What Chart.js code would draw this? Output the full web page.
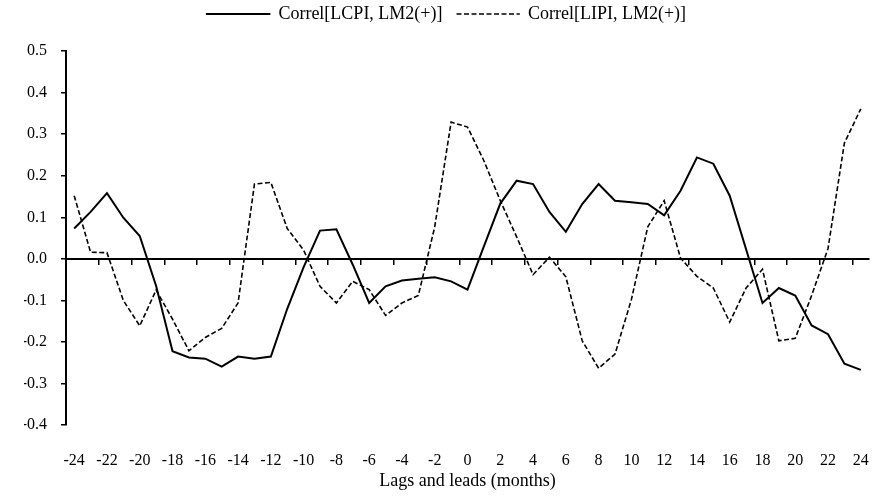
<!DOCTYPE html>
<html>
<head>
<meta charset="utf-8">
<script src="https://cdn.jsdelivr.net/npm/chart.js@4"></script>
<style>
  html, body { margin: 0; padding: 0; background: #fff; }
</style>
</head>
<body>
<canvas id="correl_chart" width="875" height="498"></canvas>
<script>
// lags and leads in months
const lags = [-24, -23, -22, -21, -20, -19, -18, -17, -16, -15, -14, -13, -12, -11, -10, -9, -8,
    -7, -6, -5, -4, -3, -2, -1, 0, 1, 2, 3, 4, 5, 6, 7, 8, 9, 10, 11, 12, 13, 14, 15, 16,
    17, 18, 19, 20, 21, 22, 23, 24];

// Correl[LCPI, LM2(+)]
const lcpi = [0.073, 0.113, 0.158, 0.099, 0.055, -0.065, -0.222, -0.237, -0.240, -0.259,
    -0.235, -0.240, -0.235, -0.120, -0.020, 0.068, 0.071, -0.014, -0.106, -0.066, -0.052,
    -0.048, -0.044, -0.054, -0.074, 0.030, 0.133, 0.188, 0.180, 0.113, 0.065, 0.132, 0.180,
    0.140, 0.136, 0.132, 0.105, 0.164, 0.244, 0.229, 0.152, 0.023, -0.106, -0.070, -0.088,
    -0.160, -0.181, -0.252, -0.267];

// Correl[LIPI, LM2(+)]
const lipi = [0.152, 0.016, 0.015, -0.100, -0.161, -0.075, -0.145, -0.221, -0.189, -0.167,
    -0.106, 0.180, 0.184, 0.073, 0.021, -0.066, -0.106, -0.054, -0.074, -0.136, -0.106,
    -0.088, 0.077, 0.329, 0.317, 0.236, 0.140, 0.053, -0.038, 0.004, -0.043, -0.197, -0.263,
    -0.229, -0.098, 0.077, 0.140, 0.002, -0.042, -0.070, -0.152, -0.070, -0.025, -0.197,
    -0.191, -0.088, 0.025, 0.279, 0.361];

const seriesNames = ["Correl[LCPI, LM2(+)]", "Correl[LIPI, LM2(+)]"];
const yMin = -0.4;
const yMax = 0.5;
const yStep = 0.1;

Chart.defaults.font.family = '"Liberation Serif", "Times New Roman", serif';
Chart.defaults.color = "#000";

// push the plot down a little below the legend
const legendGap = {
    id: "legendGap",
    beforeInit(chart) {
        const fit = chart.legend.fit;
        chart.legend.fit = function () {
            fit.bind(chart.legend)();
            this.height += 18;
        };
    },
};

const ctx = document.querySelector("#correl_chart");
new Chart(ctx, {
    type: "line",
    data: {
        labels: lags,
        datasets: [
            {
                label: seriesNames[0],
                data: lcpi,
                borderColor: "#000",
                backgroundColor: "rgba(0,0,0,0)",
                borderWidth: 2,
                pointRadius: 0,
                tension: 0,
            },
            {
                label: seriesNames[1],
                data: lipi,
                borderColor: "#000",
                backgroundColor: "rgba(0,0,0,0)",
                borderWidth: 1.6,
                borderDash: [5, 2.5],
                pointRadius: 0,
                tension: 0,
            },
        ],
    },
    options: {
        responsive: false,
        animation: false,
        layout: { padding: { left: 24, right: 6, top: 0, bottom: 6 } },
        plugins: {
            tooltip: { enabled: false },
            legend: {
                position: "top",
                labels: {
                    font: { size: 18 },
                    color: "#000",
                    padding: 5,
                    // width picked so the flat box outline's dashes line up both ways
                    boxWidth: 62.5,
                    boxHeight: 0.0001,
                    generateLabels(chart) {
                        const items = Chart.defaults.plugins.legend.labels.generateLabels(chart);
                        items[0].text += "  ";
                        return items;
                    },
                },
            },
        },
        scales: {
            x: {
                type: "category",
                offset: true,
                grid: {
                    display: true,
                    drawOnChartArea: false,
                    drawTicks: true,
                    tickLength: 26,
                    color: "rgba(0,0,0,0)",
                },
                border: { display: false },
                ticks: {
                    autoSkip: false,
                    maxRotation: 0,
                    padding: 0,
                    font: { size: 16 },
                    callback: function (value, index) {
                        return index % 2 === 0 ? this.getLabelForValue(value) : "";
                    },
                },
                title: {
                    display: true,
                    text: "Lags and leads (months)",
                    font: { size: 18 },
                    padding: { top: 0, bottom: 0 },
                },
            },
            x2: {
                type: "category",
                labels: lags,
                position: { y: 0 },
                offset: true,
                grid: {
                    offset: true,
                    drawOnChartArea: false,
                    tickLength: 5,
                    lineWidth: 1.5,
                    color: (c) => (c.index % 2 === 0 ? "#000" : "rgba(0,0,0,0)"),
                },
                border: { display: true, color: "#000", width: 2 },
                ticks: { display: false },
            },
            y: {
                min: yMin,
                max: yMax,
                afterFit: (scale) => {
                    scale.width = 42;
                },
                grid: {
                    drawOnChartArea: false,
                    tickLength: 5,
                    color: "#000",
                    lineWidth: 1.5,
                },
                border: { display: true, color: "#000", width: 2 },
                ticks: {
                    stepSize: yStep,
                    padding: 14,
                    font: { size: 16 },
                    callback: (v) => (Math.round(v * 10) / 10).toFixed(1),
                },
            },
        },
    },
    plugins: [legendGap],
});
</script>
</body>
</html>
